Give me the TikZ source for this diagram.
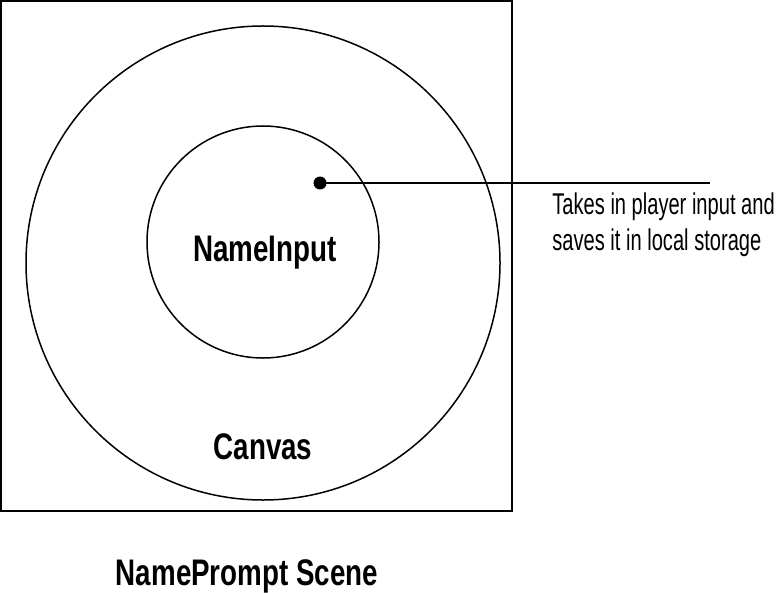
\documentclass[tikz,border=0pt]{standalone}
\usepackage{fontspec}
\setmainfont{Liberation Sans}
\newfontfamily\notefont[FakeStretch=0.67]{Liberation Sans}
\newfontfamily\namefont[FakeStretch=0.75]{Liberation Sans}
\usetikzlibrary{positioning}

\tikzset{
	ring/.style={draw, line width=0.75pt},
	title/.style={font=\namefont\bfseries\fontsize{18.5}{20}\selectfont, inner sep=0pt, anchor=base},
	note/.style={font=\notefont\fontsize{15}{18}\selectfont, inner sep=0pt, align=left, anchor=west}
}

\begin{document}
\begin{tikzpicture}[x=0.5pt, y=-0.5pt]
	\useasboundingbox (0,0) rectangle (780,593);
	\draw[ring] (1,1) rectangle (512,511);
	\draw[ring] (263,263) circle[radius=237];
	\draw[ring] (263,242) circle[radius=116];
	\node[title] (nameinput) at (265,261) {NameInput};
	\node[title] (canvas) at (263,459) {Canvas};
	\node[title] (scene) at (247,585) {NamePrompt Scene};
	% pointer to the note
	\fill (320,183) circle[radius=6.5] coordinate (dot);
	\coordinate (lineend) at (710,183);
	\draw[line width=0.75pt] (dot) -- (lineend);
	\node[note] (note) at (552,225) {Takes in player input and\\saves it in local storage};
\end{tikzpicture}
\end{document}
